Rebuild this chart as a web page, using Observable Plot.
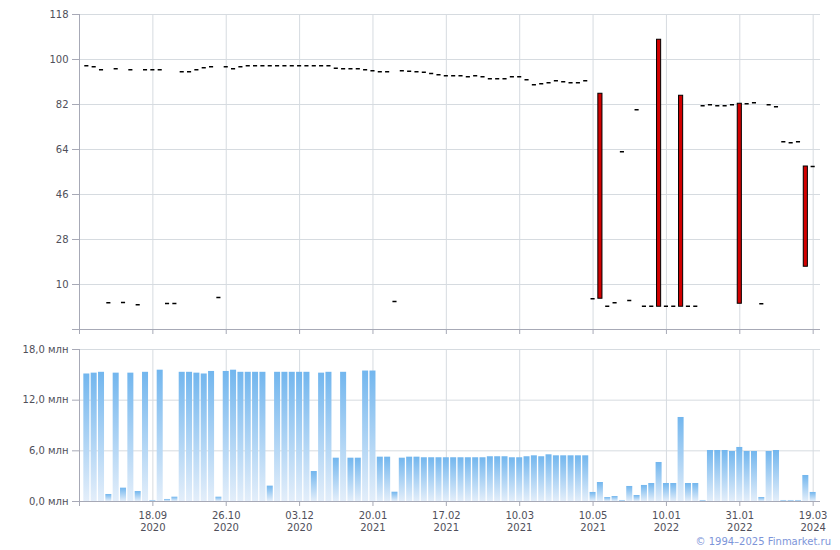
<!DOCTYPE html>
<html><head><meta charset="utf-8">
<script src="https://cdn.jsdelivr.net/npm/d3@7"></script>
<script src="https://cdn.jsdelivr.net/npm/@observablehq/plot@0.6"></script>
<style>
body{margin:0;background:#fff;}
#wrap{position:relative;width:840px;height:550px;font-family:"DejaVu Sans",sans-serif;}
#topc{position:absolute;left:0;top:0}
#botc{position:absolute;left:0;top:340px}
#cap{position:absolute;right:9px;top:536px;font-size:10px;color:#7d95d9;font-family:"DejaVu Sans",sans-serif}
</style></head><body>
<div id="wrap"><div id="topc"></div><div id="botc"></div><div id="cap">© 1994–2025 Finmarket.ru</div></div>
<script>
// ---- data (bar index 0..99) ----
const closeP = [
 97.5, 97.1, 95.9, 2.7, 96.3, 2.8, 95.9, 1.9, 95.9, 95.9,
 95.9, 2.4, 2.4, 95.1, 95.1, 95.9, 96.7, 97.1, 4.8, 97.1,
 96.3, 97.1, 97.5, 97.5, 97.5, 97.5, 97.5, 97.5, 97.5, 97.5,
 97.5, 97.5, 97.5, 97.5, 96.5, 96.3, 96.3, 96.3, 95.9, 95.5,
 95.1, 95.1, 3.2, 95.5, 95.3, 95.1, 94.9, 94.4, 93.9, 93.5,
 93.5, 93.5, 93.1, 93.5, 93.1, 92.3, 92.3, 92.3, 93.1, 93.1,
 91.9, 89.9, 90.3, 90.7, 91.5, 91.1, 90.7, 90.7, 91.5, 4.3,
 4.3, 1.3, 2.7, 63.1, 3.6, 79.9, 1.3, 1.3, 1.1, 1.3,
 1.3, 1.1, 1.3, 1.3, 81.5, 81.9, 81.5, 81.5, 81.9, 2.3,
 82.3, 82.7, 2.3, 81.9, 81.1, 67.1, 66.7, 67.1, 17.1, 57.2
];
const openP = [
 97.5, 97.1, 95.9, 2.7, 96.3, 2.8, 95.9, 1.9, 95.9, 95.9,
 95.9, 2.4, 2.4, 95.1, 95.1, 95.9, 96.7, 97.1, 4.8, 97.1,
 96.3, 97.1, 97.5, 97.5, 97.5, 97.5, 97.5, 97.5, 97.5, 97.5,
 97.5, 97.5, 97.5, 97.5, 96.5, 96.3, 96.3, 96.3, 95.9, 95.5,
 95.1, 95.1, 3.2, 95.5, 95.3, 95.1, 94.9, 94.4, 93.9, 93.5,
 93.5, 93.5, 93.1, 93.5, 93.1, 92.3, 92.3, 92.3, 93.1, 93.1,
 91.9, 89.9, 90.3, 90.7, 91.5, 91.1, 90.7, 90.7, 91.5, 4.3,
 86.3, 1.3, 2.7, 63.1, 3.6, 79.9, 1.3, 1.3, 107.9, 1.3,
 1.3, 85.5, 1.3, 1.3, 81.5, 81.9, 81.5, 81.5, 81.9, 82.3,
 82.3, 82.7, 2.3, 81.9, 81.1, 67.1, 66.7, 67.1, 57.2, 57.2
];
const volume = [
 15.1, 15.2, 15.3, 0.83, 15.2, 1.58, 15.2, 1.18, 15.3, 0.12,
 15.55, 0.24, 0.51, 15.3, 15.3, 15.2, 15.1, 15.4, 0.51, 15.4,
 15.55, 15.3, 15.3, 15.3, 15.3, 1.82, 15.3, 15.3, 15.3, 15.3,
 15.3, 3.55, 15.2, 15.3, 5.13, 15.3, 5.13, 5.13, 15.45, 15.45,
 5.25, 5.25, 1.1, 5.13, 5.25, 5.25, 5.18, 5.18, 5.18, 5.18,
 5.18, 5.18, 5.18, 5.18, 5.18, 5.3, 5.3, 5.3, 5.18, 5.18,
 5.3, 5.41, 5.3, 5.53, 5.41, 5.41, 5.41, 5.41, 5.41, 1.07,
 2.25, 0.47, 0.59, 0.12, 1.78, 0.71, 1.9, 2.13, 4.62, 2.13,
 2.13, 9.95, 2.13, 2.13, 0.12, 6.04, 6.04, 6.04, 5.92, 6.4,
 5.92, 5.92, 0.47, 5.92, 6.04, 0.12, 0.12, 0.12, 3.08, 1.07
];
const tickIdx  = [-1, 9, 19, 29, 39, 49, 59, 69, 79, 89, 99];
const tickDate = ["", "18.09", "26.10", "03.12", "20.01", "17.02", "10.03", "10.05", "10.01", "31.01", "19.03"];
const tickYear = ["", "2020", "2020", "2020", "2021", "2021", "2021", "2021", "2022", "2022", "2024"];
const priceTicks = [-8, 10, 28, 46, 64, 82, 100, 118];
const volTicks = [0, 6, 12, 18];

// ---- derived tables ----
const rows = closeP.map((c, i) => ({i, open: openP[i], close: c, vol: volume[i]}));
const dashes = rows.filter(d => d.open === d.close);
const candles = rows.filter(d => d.open !== d.close);
const labelOf = new Map(tickIdx.map((t, k) => [t, tickDate[k] ? tickDate[k] + "\n" + tickYear[k] : ""]));

const gridC = "#d6dbe0", axisC = "#a7a9b6", textC = "#4f4f5a";
const common = {
  width: 840, marginLeft: 79, marginRight: 20,
  x: {domain: [-1, 100], axis: null},
  style: {fontFamily: "DejaVu Sans, sans-serif", fontSize: "10px", background: "#fff", overflow: "visible"}
};

const priceChart = Plot.plot({
  ...common,
  height: 340, marginTop: 14, marginBottom: 11,
  y: {domain: [-8, 118], axis: null},
  marks: [
    Plot.gridY(priceTicks.slice(1), {stroke: gridC, strokeOpacity: 1}),
    Plot.gridX(tickIdx.slice(1), {stroke: gridC, strokeOpacity: 1}),
    Plot.ruleX([-1], {stroke: axisC}),
    Plot.ruleY([-8], {stroke: axisC}),
    Plot.axisY(priceTicks, {anchor: "left", tickSize: 7, tickPadding: 4, label: null,
      tickFormat: d => d === -8 ? "" : String(d), stroke: axisC, fill: textC}),
    Plot.axisX(tickIdx, {anchor: "bottom", tickSize: 5, label: null, tickFormat: () => "", stroke: axisC}),
    Plot.ruleY(dashes, {y: "close", x1: d => d.i - 0.28, x2: d => d.i + 0.28, stroke: "#000", strokeWidth: 1.5}),
    Plot.rect(candles, {x1: d => d.i - 0.28, x2: d => d.i + 0.28, y1: "open", y2: "close",
      fill: "#d20000", stroke: "#000", strokeWidth: 1})
  ]
});
document.getElementById("topc").append(priceChart);

const volChart = Plot.plot({
  ...common,
  height: 200, marginTop: 9, marginBottom: 39,
  y: {domain: [0, 18], axis: null},
  marks: [
    Plot.gridY(volTicks.slice(1), {stroke: gridC, strokeOpacity: 1}),
    Plot.gridX(tickIdx.slice(1), {stroke: gridC, strokeOpacity: 1}),
    Plot.rect(rows, {x1: d => d.i - 0.41, x2: d => d.i + 0.41, y1: () => 0, y2: "vol", fill: "url(#vg)"}),
    Plot.ruleX([-1], {stroke: axisC}),
    Plot.ruleY([0], {stroke: axisC}),
    Plot.axisY(volTicks, {anchor: "left", tickSize: 7, tickPadding: 4, label: null,
      tickFormat: d => d.toFixed(1).replace(".", ",") + " млн", stroke: axisC, fill: textC}),
    Plot.axisX(tickIdx, {anchor: "bottom", tickSize: 5, tickPadding: 4, label: null, lineHeight: 1.17,
      tickFormat: d => labelOf.get(d), stroke: axisC, fill: textC})
  ]
});
const ns = "http://www.w3.org/2000/svg";
const defs = document.createElementNS(ns, "defs");
const lg = document.createElementNS(ns, "linearGradient");
lg.setAttribute("id", "vg"); lg.setAttribute("x1", "0"); lg.setAttribute("y1", "0");
lg.setAttribute("x2", "0"); lg.setAttribute("y2", "1");
[["0", "#72b6ee"], ["1", "#e3eefa"]].forEach(([o, c]) => {
  const s = document.createElementNS(ns, "stop");
  s.setAttribute("offset", o); s.setAttribute("stop-color", c); lg.append(s);
});
defs.append(lg);
volChart.insertBefore(defs, volChart.firstChild);
document.getElementById("botc").append(volChart);
</script>
</body></html>
